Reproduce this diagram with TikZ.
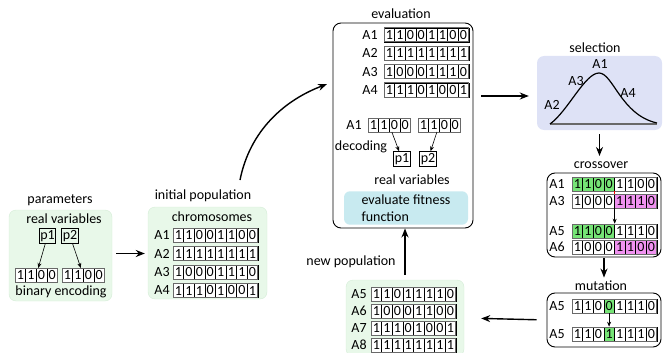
\documentclass[tikz,border=0pt]{standalone}
\usepackage{fontspec}
\setmainfont{Carlito}
\usetikzlibrary{arrows.meta,positioning}

\definecolor{popfill}{RGB}{232,248,233}
\definecolor{popedge}{RGB}{212,236,214}
\definecolor{selfill}{RGB}{222,226,246}
\definecolor{fitfill}{RGB}{200,234,240}
\definecolor{bitgreen}{RGB}{118,228,118}
\definecolor{bitpink}{RGB}{240,146,240}
\definecolor{rimgray}{RGB}{105,105,105}

\tikzset{
  bit/.style={draw, line width=0.6pt, minimum width=10.6pt, minimum height=14pt, inner sep=0pt, fill=white},
  pbox/.style={draw, line width=0.6pt, minimum width=16pt, minimum height=15pt, inner sep=1pt},
  rowrim/.style={draw=rimgray, line width=1pt},
  popbox/.style={fill=popfill, draw=popedge, rounded corners=7pt},
  stagebox/.style={draw, line width=0.9pt, rounded corners=8pt},
  flow/.style={-{Stealth[length=9pt,width=7pt]}, line width=1.4pt},
  minor/.style={-{Stealth[length=5pt,width=4pt]}, line width=0.6pt},
}

% bit string: name, x of first cell, y, bits
\newcommand{\bitrow}[4]{%
  \begin{scope}[local bounding box=#1]
    \foreach \bv [count=\i] in {#4}
      \node[bit] (#1-\i) at ({#2+(\i-1)*10.6},#3) {\bv};
  \end{scope}
  \draw[rowrim] (#1.north west) rectangle (#1.south east);
}
% same, with bit/colour pairs
\newcommand{\cbitrow}[4]{%
  \begin{scope}[local bounding box=#1]
    \foreach \bv/\bc [count=\i] in {#4}
      \node[bit, fill=\bc] (#1-\i) at ({#2+(\i-1)*10.6},#3) {\bv};
  \end{scope}
  \draw[rowrim] (#1.north west) rectangle (#1.south east);
}

\begin{document}
\begin{tikzpicture}[x=1pt,y=1pt,yscale=-1,font=\fontsize{14}{17}\selectfont]

% parameters
\node[popbox, minimum width=103pt, minimum height=91pt] (parbox) at (60.5,255.5) {};
\node (partitle) at (60,200) {parameters};
\node (parreal) at (64,219) {real variables};
\node[pbox] (p1) at (47.5,236) {p1};
\node[pbox] (p2) at (70,236) {p2};
\bitrow{enc1}{20.3}{275}{1,1,0,0}
\bitrow{enc2}{67.3}{275}{1,1,0,0}
\node (parbin) at (61,292) {binary encoding};
\draw[minor] (p1) -- (enc1);
\draw[minor] (p2) -- (enc2);

% initial population
\node[popbox, minimum width=119pt, minimum height=92pt] (initbox) at (207.5,253) {};
\node (inittitle) at (203,196) {initial population};
\node (initchrom) at (212,217) {chromosomes};
\node (ia1) at (162,235) {A1};
\bitrow{ib1}{178.3}{235}{1,1,0,0,1,1,0,0}
\node (ia2) at (162,253.5) {A2};
\bitrow{ib2}{178.3}{253.5}{1,1,1,1,1,1,1,1}
\node (ia3) at (162,272) {A3};
\bitrow{ib3}{178.3}{272}{1,0,0,0,1,1,1,0}
\node (ia4) at (162,290.5) {A4};
\bitrow{ib4}{178.3}{290.5}{1,1,1,0,1,0,0,1}

% evaluation
\node[stagebox, minimum width=140pt, minimum height=205pt] (evalbox) at (403,125.5) {};
\node (evaltitle) at (401,14) {evaluation};
\node (ea1) at (370,35) {A1};
\bitrow{eb1}{389.3}{35}{1,1,0,0,1,1,0,0}
\node (ea2) at (370,53.3) {A2};
\bitrow{eb2}{389.3}{53.3}{1,1,1,1,1,1,1,1}
\node (ea3) at (370,71.6) {A3};
\bitrow{eb3}{389.3}{71.6}{1,0,0,0,1,1,1,0}
\node (ea4) at (370,90) {A4};
\bitrow{eb4}{389.3}{90}{1,1,1,0,1,0,0,1}
\node (da1) at (354,125) {A1};
\bitrow{dg1}{373.3}{125}{1,1,0,0}
\bitrow{dg2}{423.3}{125}{1,1,0,0}
\node (decode) at (361,147) {decoding};
\node[pbox] (dp1) at (402,159) {p1};
\node[pbox] (dp2) at (428,159) {p2};
\draw[minor] (dg1) -- (dp1);
\draw[minor] (dg2) -- (dp2);
\node (evalreal) at (412,180) {real variables};
\node[fill=fitfill, rounded corners=6pt, minimum width=124pt, minimum height=30pt, align=left] (fitness) at (406,208) {evaluate fitness\\function};

% selection
\node[fill=selfill, rounded corners=7pt, minimum width=125pt, minimum height=74pt] (selbox) at (599.5,93) {};
\node (seltitle) at (595,48) {selection};
\draw[rimgray, line width=1.5pt] (550,124) -- (657,124);
\draw[line width=1.2pt] (550,124) .. controls (568,111) and (585,73) .. (599,73) .. controls (613,73) and (621,115) .. (657,123);
\node (sa1) at (600,64) {A1};
\node (sa3) at (576,81) {A3};
\node (sa4) at (628,93) {A4};
\node (sa2) at (552,105) {A2};

% crossover
\node[stagebox, minimum width=114pt, minimum height=84pt] (crossbox) at (604,215) {};
\node (crosstitle) at (601,165) {crossover};
\node (ca1) at (557,184) {A1};
\cbitrow{cb1}{577.3}{184}{1/bitgreen,1/bitgreen,0/bitgreen,0/bitgreen,1/white,1/white,0/white,0/white}
\node (ca3) at (557,201) {A3};
\cbitrow{cb3}{577.3}{201}{1/white,0/white,0/white,0/white,1/bitpink,1/bitpink,1/bitpink,0/bitpink}
\node (ca5) at (557,231) {A5};
\cbitrow{cb5}{577.3}{231}{1/bitgreen,1/bitgreen,0/bitgreen,0/bitgreen,1/white,1/white,1/white,0/white}
\node (ca6) at (557,247) {A6};
\cbitrow{cb6}{577.3}{247}{1/white,0/white,0/white,0/white,1/bitpink,1/bitpink,0/bitpink,0/bitpink}
\draw[red, line width=0.8pt] (cb1-4.south east) -- (cb3-4.north east);
\draw[minor] (cb3-4.south east) -- (cb5-4.north east);

% mutation
\node[stagebox, minimum width=114pt, minimum height=54pt] (mutbox) at (604,320) {};
\node (muttitle) at (601,286) {mutation};
\node (ma1) at (557,306) {A5};
\cbitrow{mb1}{577.3}{306}{1/white,1/white,0/white,0/bitgreen,1/white,1/white,1/white,0/white}
\node (ma2) at (557,334) {A5};
\cbitrow{mb2}{577.3}{334}{1/white,1/white,0/white,1/bitgreen,1/white,1/white,1/white,0/white}
\draw[minor] (mb1-4) -- (mb2-4);

% new population
\node[popbox, minimum width=118pt, minimum height=76pt] (newbox) at (405,318) {};
\node (newtitle) at (351,262) {new population};
\node (na5) at (359,294) {A5};
\bitrow{nb5}{376.3}{294}{1,1,0,1,1,1,1,0}
\node (na6) at (359,311) {A6};
\bitrow{nb6}{376.3}{311}{1,0,0,0,1,1,0,0}
\node (na7) at (359,328) {A7};
\bitrow{nb7}{376.3}{328}{1,1,1,0,1,0,0,1}
\node (na8) at (359,345) {A8};
\bitrow{nb8}{376.3}{345}{1,1,1,1,1,1,1,1}

% flow of the loop
\coordinate (initout) at (240,180);
\draw[flow, shorten <=4pt, shorten >=3pt] (parbox.east |- ib2) -- (initbox.west |- ib2);
\draw[flow, shorten >=6pt] (initout) .. controls (250,130) and (285,100) .. (evalbox.west |- 0,82);
\draw[flow, shorten <=8pt, shorten >=8pt] (evalbox.east |- 0,96) -- (selbox.west |- 0,96);
\draw[flow, shorten <=4pt, shorten >=2pt] (selbox.south) -- (selbox.south |- crosstitle.north);
\draw[flow, shorten <=1pt, shorten >=0pt] (crossbox.south) -- (crossbox.south |- muttitle.north);
\draw[flow, shorten <=10pt, shorten >=17pt] (mutbox.west) -- (newbox.east);
\draw[flow, shorten <=5pt] (newbox.north) -- (newbox.north |- evalbox.south);

\pgfresetboundingbox
\path[use as bounding box] (0,0) rectangle (664,353);
\end{tikzpicture}
\end{document}
